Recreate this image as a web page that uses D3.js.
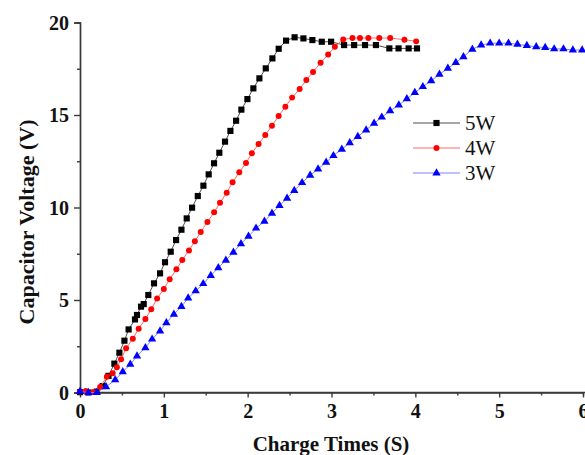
<!DOCTYPE html>
<html>
<head>
<meta charset="utf-8">
<script src="https://cdn.jsdelivr.net/npm/d3@7"></script>
<style>
  html, body { margin: 0; padding: 0; background: #fff; }
  svg { display: block; }
  .tick text { font-family: "Liberation Serif", "Times New Roman", serif; font-weight: bold; font-size: 20px; fill: #111; }
</style>
</head>
<body>
<svg id="chart" width="585" height="455"></svg>
<script>
// Charge time (s) and capacitor voltage (V) for each charging power
const time5W = [0.00,0.10,0.20,0.27,0.34,0.41,0.47,0.53,0.58,0.656,0.68,0.728,0.76,0.815,0.883,0.955,1.014,1.082,1.146,1.21,1.273,1.337,1.405,1.472,1.535,1.599,1.662,1.73,1.794,1.862,1.925,1.997,2.068,2.14,2.216,2.295,2.37,2.458,2.56,2.665,2.772,2.884,2.995,3.15,3.27,3.40,3.53,3.69,3.80,3.92,4.02];
const volt5W = [0.02,0.00,0.05,0.35,0.90,1.56,2.15,2.80,3.41,3.95,4.19,4.64,4.78,5.27,5.90,6.44,7.04,7.61,8.24,8.80,9.41,9.99,10.62,11.18,11.79,12.39,12.96,13.56,14.14,14.69,15.29,15.86,16.44,16.98,17.52,18.06,18.58,19.02,19.20,19.14,19.05,18.96,18.96,18.78,18.78,18.78,18.78,18.60,18.60,18.60,18.60];

const time4W = [0.00,0.07,0.16,0.24,0.32,0.39,0.44,0.49,0.55,0.63,0.70,0.78,0.85,0.92,1.00,1.07,1.15,1.22,1.30,1.37,1.44,1.52,1.60,1.67,1.75,1.82,1.90,1.98,2.05,2.13,2.21,2.29,2.37,2.45,2.53,2.62,2.70,2.78,2.87,2.96,3.04,3.14,3.25,3.34,3.44,3.57,3.70,3.87,4.01];
const volt4W = [0.05,0.08,0.03,0.30,0.85,1.04,1.36,1.80,2.39,2.90,3.45,3.97,4.50,5.08,5.60,6.12,6.66,7.16,7.68,8.17,8.68,9.22,9.74,10.26,10.80,11.37,11.90,12.41,12.93,13.43,13.92,14.42,14.95,15.45,15.94,16.41,16.89,17.33,17.82,18.27,18.69,19.08,19.16,19.16,19.16,19.16,19.16,19.07,18.98];

const time3W = [0.00,0.10,0.20,0.31,0.42,0.51,0.60,0.68,0.78,0.86,0.955,1.03,1.12,1.21,1.29,1.38,1.47,1.56,1.65,1.74,1.83,1.92,2.01,2.10,2.20,2.29,2.38,2.47,2.556,2.649,2.745,2.84,2.936,3.023,3.123,3.218,3.314,3.413,3.508,3.60,3.699,3.803,3.899,3.994,4.09,4.189,4.288,4.388,4.483,4.574,4.68,4.785,4.893,5.00,5.111,5.218,5.33,5.442,5.549,5.656,5.767,5.879,5.99];
const volt3W = [0.05,0.00,0.00,0.31,0.68,1.12,1.52,1.97,2.42,2.88,3.32,3.77,4.23,4.64,5.10,5.49,5.88,6.32,6.74,7.15,7.58,8.04,8.44,8.88,9.25,9.69,10.10,10.50,10.92,11.34,11.74,12.08,12.44,12.80,13.15,13.50,13.83,14.19,14.55,14.88,15.22,15.54,15.87,16.21,16.53,16.85,17.20,17.52,17.83,18.15,18.55,18.78,18.88,18.88,18.88,18.82,18.75,18.69,18.64,18.57,18.57,18.51,18.51];

const seriesNames = ["5W", "4W", "3W"];
const xTicks = [0, 1, 2, 3, 4, 5, 6];
const yTicks = [0, 5, 10, 15, 20];

const series = [
  { name: seriesNames[0], t: time5W, v: volt5W, line: "#4d4d4d", mark: "#000000", symbol: d3.symbolSquare, size: 38 },
  { name: seriesNames[1], t: time4W, v: volt4W, line: "#ff6a6a", mark: "#ff0000", symbol: d3.symbolCircle, size: 28 },
  { name: seriesNames[2], t: time3W, v: volt3W, line: "#8080ff", mark: "#0000ff", symbol: d3.symbolTriangle, size: 30 }
];

const svg = d3.select("#chart");
const x = d3.scaleLinear().domain([0, 6]).range([80, 583]);
const y = d3.scaleLinear().domain([0, 20]).range([392.5, 22.5]);

const axisColor = "#3a3a3a";

// minor ticks at half steps
const xMinor = d3.range(0.5, 6, 1);
const yMinor = d3.range(2.5, 20, 5);

const gx = svg.append("g").attr("transform", `translate(0,${y(0)})`);
gx.call(d3.axisBottom(x).tickValues(xMinor).tickSize(3).tickFormat(""));
const gxMajor = svg.append("g").attr("transform", `translate(0,${y(0)})`)
  .call(d3.axisBottom(x).tickValues(xTicks).tickSize(5).tickPadding(5).tickFormat(d3.format("d")));
gxMajor.select(".domain").attr("d", `M${x(0)},0H585`);

const gy = svg.append("g").attr("transform", `translate(${x(0)},0)`);
gy.call(d3.axisLeft(y).tickValues(yMinor).tickSize(3).tickFormat(""));
const gyMajor = svg.append("g").attr("transform", `translate(${x(0)},0)`)
  .call(d3.axisLeft(y).tickValues(yTicks).tickSize(6).tickPadding(5).tickFormat(d3.format("d")));

svg.selectAll(".domain").attr("stroke", axisColor).attr("stroke-width", 1.4);
svg.selectAll(".tick line").attr("stroke", axisColor).attr("stroke-width", 1.4);
gxMajor.selectAll(".tick text").attr("dy", "0.78em");
gyMajor.selectAll(".tick text").attr("dy", "0.34em");

// curves and markers
const line = d3.line().x(d => x(d[0])).y(d => y(d[1]));
series.forEach(s => {
  const pts = s.t.map((t, i) => [t, s.v[i]]);
  svg.append("path").datum(pts)
    .attr("d", line).attr("fill", "none")
    .attr("stroke", s.line).attr("stroke-width", 1);
  svg.append("g").selectAll("path").data(pts).join("path")
    .attr("transform", d => `translate(${x(d[0])},${y(d[1])})`)
    .attr("d", d3.symbol().type(s.symbol).size(s.size))
    .attr("fill", s.mark);
});

// legend
const legend = svg.append("g");
series.forEach((s, i) => {
  const ly = 123 + i * 25;
  legend.append("line").attr("x1", 413).attr("x2", 460).attr("y1", ly).attr("y2", ly)
    .attr("stroke", s.line).attr("stroke-width", 1);
  legend.append("path").attr("transform", `translate(436.5,${ly})`)
    .attr("d", d3.symbol().type(s.symbol).size(s.size)).attr("fill", s.mark);
  legend.append("text").attr("x", 465).attr("y", ly).attr("dy", "0.35em")
    .attr("font-family", "'Liberation Serif', 'Times New Roman', serif")
    .attr("font-size", 21).attr("fill", "#111").text(s.name);
});

// axis titles
svg.append("text").attr("x", 331).attr("y", 451).attr("text-anchor", "middle")
  .attr("font-family", "'Liberation Serif', 'Times New Roman', serif")
  .attr("font-weight", "bold").attr("font-size", 21).attr("fill", "#111")
  .text("Charge Times (S)");
svg.append("text").attr("transform", "translate(34,222) rotate(-90)").attr("text-anchor", "middle")
  .attr("font-family", "'Liberation Serif', 'Times New Roman', serif")
  .attr("font-weight", "bold").attr("font-size", 22).attr("fill", "#111")
  .text("Capacitor Voltage (V)");
</script>
</body>
</html>
